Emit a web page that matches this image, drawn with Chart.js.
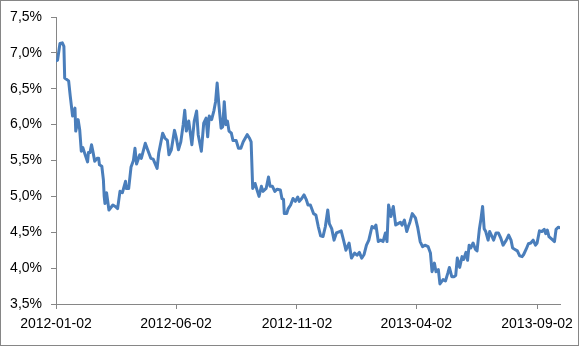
<!DOCTYPE html>
<html>
<head>
<meta charset="utf-8">
<script src="https://cdn.jsdelivr.net/npm/chart.js@4/dist/chart.umd.min.js"></script>
<style>
    body { margin: 0; background: #fff; }
    canvas { display: block; }
</style>
</head>
<body>
<canvas id="rateChart" width="579" height="346"></canvas>
<script>
// day offsets counted from 2012-01-02
const startDate = '2012-01-02';
const days = [0, 2, 5, 8, 10, 11, 16, 18, 21, 24, 25, 28, 30, 32, 34, 36, 40, 41, 43, 45,
    47, 49, 52, 54, 55, 58, 60, 61, 62, 64, 67, 72, 75, 78, 81, 84, 88, 89, 92, 95,
    98, 100, 102, 106, 108, 113, 116, 120, 123, 128, 130, 135, 138, 141, 143, 146, 150, 152, 155, 158,
    161, 163, 165, 168, 172, 175, 178, 180, 184, 187, 190, 192, 194, 197, 200, 202, 204, 206, 209, 211,
    213, 215, 217, 219, 222, 224, 228, 231, 234, 237, 242, 245, 247, 249, 252, 255, 257, 260, 262, 266,
    269, 271, 274, 277, 280, 284, 286, 288, 289, 292, 294, 297, 300, 303, 306, 308, 311, 314, 317, 319,
    322, 326, 329, 332, 335, 338, 341, 344, 346, 349, 352, 355, 359, 361, 364, 367, 371, 374, 378, 381,
    384, 387, 390, 393, 396, 400, 403, 405, 408, 411, 414, 417, 419, 421, 424, 427, 430, 433, 436, 438,
    441, 444, 446, 448, 451, 455, 458, 461, 464, 467, 471, 474, 476, 479, 481, 484, 486, 490, 493, 496,
    498, 501, 504, 506, 508, 511, 514, 516, 519, 521, 523, 525, 528, 531, 533, 536, 538, 540, 542, 544,
    547, 549, 552, 554, 557, 560, 563, 566, 570, 573, 576, 578, 581, 584, 587, 590, 592, 595, 598, 601,
    604, 607, 609, 612, 615, 618, 620, 622, 624, 628, 631, 633, 636, 639];

// rate in percent
const rates = [6.89, 6.90, 7.13, 7.14, 7.09, 6.65, 6.61, 6.40, 6.12, 6.23, 5.91, 6.07, 5.93, 5.63, 5.68, 5.61, 5.48, 5.61, 5.61, 5.72,
    5.61, 5.49, 5.53, 5.53, 5.44, 5.42, 5.23, 5.00, 4.90, 5.05, 4.81, 4.88, 4.86, 4.83, 5.07, 5.05, 5.21, 5.11, 5.11, 5.41,
    5.50, 5.67, 5.45, 5.58, 5.53, 5.74, 5.65, 5.53, 5.52, 5.39, 5.60, 5.88, 5.81, 5.78, 5.58, 5.65, 5.92, 5.83, 5.65, 5.76,
    6.00, 6.20, 5.91, 6.05, 5.72, 6.05, 6.19, 5.86, 5.63, 6.02, 6.09, 5.83, 6.12, 6.07, 6.20, 6.32, 6.58, 6.30, 5.95, 5.97,
    6.32, 6.00, 6.05, 5.91, 5.88, 5.78, 5.78, 5.67, 5.67, 5.76, 5.86, 5.81, 5.76, 5.11, 5.18, 5.07, 5.00, 5.14, 5.07, 5.11,
    5.27, 5.14, 5.14, 5.07, 5.10, 5.09, 4.97, 4.96, 4.76, 4.76, 4.83, 4.88, 4.97, 4.93, 4.99, 4.93, 4.97, 5.02, 4.95, 4.88,
    4.88, 4.76, 4.74, 4.58, 4.45, 4.44, 4.58, 4.81, 4.62, 4.55, 4.39, 4.49, 4.51, 4.52, 4.39, 4.25, 4.35, 4.14, 4.21, 4.18,
    4.22, 4.14, 4.19, 4.32, 4.39, 4.58, 4.56, 4.60, 4.37, 4.39, 4.37, 4.49, 4.37, 4.88, 4.72, 4.86, 4.60, 4.62, 4.64, 4.60,
    4.67, 4.51, 4.58, 4.64, 4.76, 4.70, 4.56, 4.37, 4.30, 4.32, 4.30, 4.21, 3.95, 4.07, 3.95, 3.98, 3.78, 3.84, 3.82, 3.93,
    4.01, 3.88, 3.88, 3.90, 4.14, 4.01, 4.16, 4.12, 4.22, 4.11, 4.32, 4.28, 4.35, 4.26, 4.24, 4.55, 4.69, 4.86, 4.55, 4.51,
    4.39, 4.51, 4.44, 4.39, 4.49, 4.49, 4.42, 4.32, 4.39, 4.46, 4.39, 4.28, 4.26, 4.24, 4.17, 4.16, 4.19, 4.26, 4.34, 4.35,
    4.39, 4.32, 4.35, 4.52, 4.51, 4.54, 4.48, 4.53, 4.44, 4.40, 4.37, 4.54, 4.57, 4.56];

const tickLabels = ['2012-01-02', '2012-06-02', '2012-11-02', '2013-04-02', '2013-09-02'];

const DAY = 86400000;
const t0 = Date.parse(startDate);
const tickDays = tickLabels.map(d => Math.round((Date.parse(d) - t0) / DAY));

const axisGray = '#868686';
const font = { family: '"Liberation Sans", Arial, sans-serif', size: 14 };

// thin gray frame round the whole chart, like the Excel chart border
const framePlugin = {
    id: 'frame',
    afterDraw(chart) {
        const ctx = chart.ctx;
        ctx.save();
        ctx.strokeStyle = axisGray;
        ctx.lineWidth = 1;
        ctx.strokeRect(0.5, 0.5, chart.width - 1, chart.height - 1);
        ctx.restore();
    }
};

new Chart(document.getElementById('rateChart'), {
    type: 'line',
    data: {
        datasets: [{
            data: days.map((d, i) => ({ x: d, y: rates[i] })),
            borderColor: '#4A7EBB',
            borderWidth: 3,
            borderJoinStyle: 'round',
            borderCapStyle: 'round',
            pointRadius: 0,
            tension: 0,
            fill: false
        }]
    },
    options: {
        responsive: false,
        animation: false,
        devicePixelRatio: 1,
        layout: { padding: { top: 17, right: 19, left: 0, bottom: 0 } },
        plugins: {
            legend: { display: false },
            tooltip: { enabled: false }
        },
        scales: {
            x: {
                type: 'linear',
                min: 0,
                max: 638,
                afterBuildTicks: scale => {
                    scale.ticks = tickDays.map(v => ({ value: v }));
                },
                afterFit: scale => {
                    scale.height = 42;
                    scale.paddingLeft = 0;
                    scale.paddingRight = 0;
                },
                ticks: {
                    color: '#000',
                    font: font,
                    padding: 7,
                    maxRotation: 0,
                    autoSkip: false,
                    callback: (v, i) => tickLabels[i]
                },
                grid: {
                    drawOnChartArea: false,
                    drawTicks: true,
                    tickLength: 5,
                    color: axisGray
                },
                border: { display: true, color: axisGray, width: 1 }
            },
            y: {
                min: 3.5,
                max: 7.5,
                afterFit: scale => {
                    scale.width = 56;
                    scale.paddingTop = 0;
                    scale.paddingBottom = 0;
                },
                ticks: {
                    stepSize: 0.5,
                    color: '#000',
                    font: font,
                    padding: 9,
                    callback: v => v.toFixed(1).replace('.', ',') + '%'
                },
                grid: {
                    drawOnChartArea: false,
                    drawTicks: true,
                    tickLength: 5,
                    color: axisGray
                },
                border: { display: true, color: axisGray, width: 1 }
            }
        }
    },
    plugins: [framePlugin]
});
</script>
</body>
</html>
